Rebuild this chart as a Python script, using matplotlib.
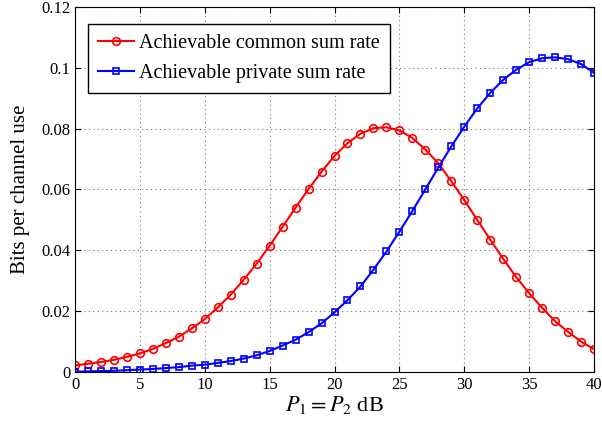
import numpy as np
import matplotlib.pyplot as plt

plt.rcParams['font.family'] = ['Liberation Serif', 'DejaVu Serif']
plt.rcParams['mathtext.fontset'] = 'stix'

# puissance en dB
p_db = list(range(0, 41))

# débit commun (cercles rouges)
common = [0.0022, 0.0027, 0.0033, 0.0040, 0.0050, 0.0061, 0.0076, 0.0095, 0.0116, 0.0143,
          0.0174, 0.0212, 0.0254, 0.0303, 0.0356, 0.0415, 0.0477, 0.0540, 0.0601, 0.0658,
          0.0710, 0.0752, 0.0783, 0.0801, 0.0804, 0.0794, 0.0769, 0.0731, 0.0686, 0.0627,
          0.0565, 0.0500, 0.0435, 0.0372, 0.0312, 0.0259, 0.0211, 0.0167, 0.0132, 0.0100,
          0.0075]

# débit privé (carrés bleus)
private = [0.0001, 0.0002, 0.0003, 0.0004, 0.0006, 0.0008, 0.0010, 0.0013, 0.0016, 0.0021,
           0.0024, 0.0030, 0.0036, 0.0044, 0.0055, 0.0069, 0.0087, 0.0106, 0.0131, 0.0160,
           0.0196, 0.0236, 0.0281, 0.0336, 0.0396, 0.0461, 0.0529, 0.0600, 0.0672, 0.0741,
           0.0806, 0.0866, 0.0917, 0.0960, 0.0993, 0.1018, 0.1031, 0.1034, 0.1028, 0.1012,
           0.0983]

fig = plt.figure(figsize=(6.02, 4.24), dpi=100)
ax = fig.add_axes([0.1246, 0.1226, 0.8621, 0.8614])

ax.plot(p_db, common, color='red', marker='o', markersize=5.5, markerfacecolor='none',
        markeredgewidth=1.2, linewidth=1.5, label='Achievable common sum rate')
ax.plot(p_db, private, color='blue', marker='s', markersize=4.5, markerfacecolor='none',
        markeredgewidth=1.2, linewidth=1.5, label='Achievable private sum rate')

ax.set_xlim(0, 40)
ax.set_ylim(0, 0.12)
ax.set_xticks(range(0, 41, 5))
ax.set_yticks([0, 0.02, 0.04, 0.06, 0.08, 0.1, 0.12])
ax.set_yticklabels(['0', '0.02', '0.04', '0.06', '0.08', '0.1', '0.12'])
ax.tick_params(direction='in', top=True, right=True, labelsize=12, length=4)
ax.grid(True, linestyle=(0, (1, 3)), color='#777777', linewidth=0.8)

ax.set_xlabel('$P_1 = P_2$ dB', fontsize=16, labelpad=1)
ax.set_ylabel('Bits per channel use', fontsize=15, labelpad=8)

leg = ax.legend(loc='upper left', fontsize=14.5, fancybox=False, framealpha=1,
                edgecolor='black', borderpad=0.5, handlelength=1.8, handletextpad=0.25,
                labelspacing=0.55, bbox_to_anchor=(0.025, 0.953), borderaxespad=0)
leg.get_frame().set_linewidth(1.0)

plt.savefig('out.png', dpi=100)
plt.close()
